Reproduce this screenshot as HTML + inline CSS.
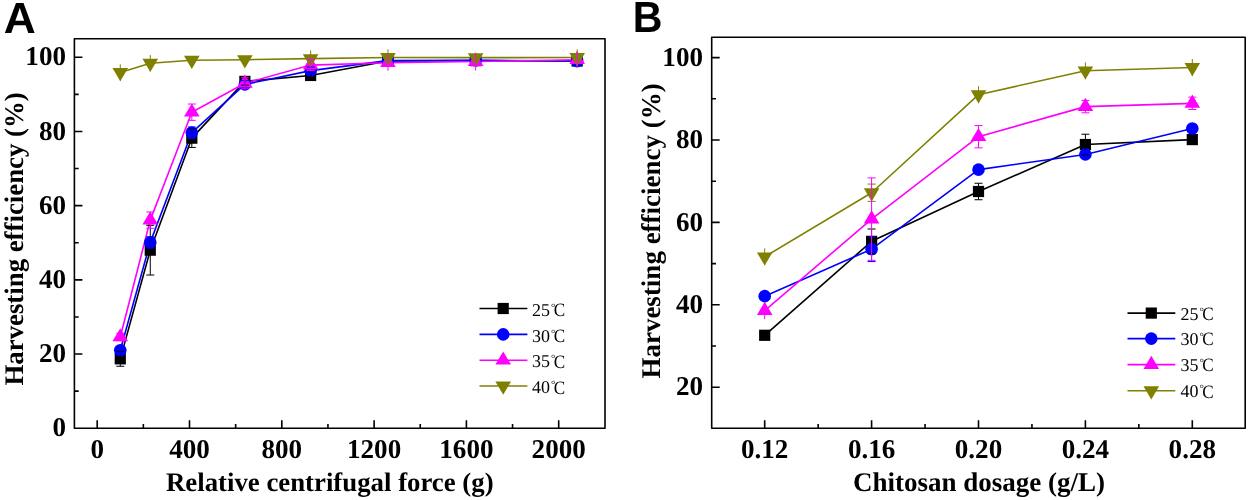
<!DOCTYPE html><html><head><meta charset="utf-8"><style>
html,body{margin:0;padding:0;background:#fff;width:1249px;height:500px;overflow:hidden}
svg{display:block;will-change:transform;text-rendering:geometricPrecision}
.tl{font-family:"Liberation Serif",serif;font-weight:bold;font-size:27.1px;fill:#000}
.ax{font-family:"Liberation Serif",serif;font-weight:bold;font-size:26.8px;fill:#000}
.lg{font-family:"Liberation Serif",serif;font-size:18px;fill:#000}
.deg{font-size:11px}
.pl{font-family:"Liberation Sans",sans-serif;font-weight:bold;font-size:43.5px;fill:#000}
</style></head><body>
<svg width="1249" height="500" viewBox="0 0 1249 500">
<polyline points="120.28,358.84 150.27,250.17 191.81,138.16 244.88,81.41 310.64,75.47 387.94,61.01 475.63,60.64 577.16,61.01" fill="none" stroke="#000000" stroke-width="1.6" stroke-linejoin="round"/>
<polyline points="120.28,350.31 150.27,242.38 191.81,132.59 244.88,84.38 310.64,70.65 387.94,60.64 475.63,60.27 577.16,61.01" fill="none" stroke="#0000FF" stroke-width="1.6" stroke-linejoin="round"/>
<polyline points="120.28,336.96 150.27,220.13 191.81,112.19 244.88,83.26 310.64,65.09 387.94,62.68 475.63,61.57 577.16,59.71" fill="none" stroke="#FF00FF" stroke-width="1.6" stroke-linejoin="round"/>
<polyline points="120.28,72.51 150.27,63.23 191.81,60.27 244.88,59.71 310.64,58.6 387.94,57.49 475.63,57.67 577.16,57.49" fill="none" stroke="#808000" stroke-width="1.6" stroke-linejoin="round"/>
<rect x="114.68" y="353.24" width="11.2" height="11.2" fill="#000000"/>
<rect x="144.67" y="244.57" width="11.2" height="11.2" fill="#000000"/>
<rect x="186.21" y="132.56" width="11.2" height="11.2" fill="#000000"/>
<rect x="239.28" y="75.81" width="11.2" height="11.2" fill="#000000"/>
<rect x="305.04" y="69.87" width="11.2" height="11.2" fill="#000000"/>
<rect x="382.34" y="55.41" width="11.2" height="11.2" fill="#000000"/>
<rect x="470.03" y="55.04" width="11.2" height="11.2" fill="#000000"/>
<rect x="571.56" y="55.41" width="11.2" height="11.2" fill="#000000"/>
<circle cx="120.28" cy="350.31" r="6.3" fill="#0000FF"/>
<circle cx="150.27" cy="242.38" r="6.3" fill="#0000FF"/>
<circle cx="191.81" cy="132.59" r="6.3" fill="#0000FF"/>
<circle cx="244.88" cy="84.38" r="6.3" fill="#0000FF"/>
<circle cx="310.64" cy="70.65" r="6.3" fill="#0000FF"/>
<circle cx="387.94" cy="60.64" r="6.3" fill="#0000FF"/>
<circle cx="475.63" cy="60.27" r="6.3" fill="#0000FF"/>
<circle cx="577.16" cy="61.01" r="6.3" fill="#0000FF"/>
<path d="M120.28 328.16L128.08 341.36L112.48 341.36Z" fill="#FF00FF"/>
<path d="M150.27 211.33L158.07 224.53L142.47 224.53Z" fill="#FF00FF"/>
<path d="M191.81 103.39L199.61 116.59L184.01 116.59Z" fill="#FF00FF"/>
<path d="M244.88 74.46L252.68 87.66L237.08 87.66Z" fill="#FF00FF"/>
<path d="M310.64 56.29L318.44 69.49L302.84 69.49Z" fill="#FF00FF"/>
<path d="M387.94 53.88L395.75 67.08L380.14 67.08Z" fill="#FF00FF"/>
<path d="M475.63 52.77L483.43 65.97L467.83 65.97Z" fill="#FF00FF"/>
<path d="M577.16 50.91L584.96 64.11L569.36 64.11Z" fill="#FF00FF"/>
<path d="M112.48 68.11L128.08 68.11L120.28 81.31Z" fill="#808000"/>
<path d="M142.47 58.83L158.07 58.83L150.27 72.03Z" fill="#808000"/>
<path d="M184.01 55.87L199.61 55.87L191.81 69.07Z" fill="#808000"/>
<path d="M237.08 55.31L252.68 55.31L244.88 68.51Z" fill="#808000"/>
<path d="M302.84 54.2L318.44 54.2L310.64 67.4Z" fill="#808000"/>
<path d="M380.14 53.09L395.75 53.09L387.94 66.29Z" fill="#808000"/>
<path d="M467.83 53.27L483.43 53.27L475.63 66.47Z" fill="#808000"/>
<path d="M569.36 53.09L584.96 53.09L577.16 66.29Z" fill="#808000"/>
<path d="M120.28 64.35V80.67" stroke="#808000" stroke-width="1" fill="none"/>
<path d="M150.27 55.07V71.39" stroke="#808000" stroke-width="1" fill="none"/>
<path d="M310.64 50.44V66.76" stroke="#808000" stroke-width="1" fill="none"/>
<path d="M387.94 49.33V65.65" stroke="#808000" stroke-width="1" fill="none"/>
<path d="M577.16 49.33V65.65" stroke="#808000" stroke-width="1" fill="none"/>
<path d="M120.28 351.42V366.26M116.28 351.42H124.28M116.28 366.26H124.28" stroke="#000000" stroke-width="1" fill="none"/>
<path d="M150.27 225.32V275.02M146.27 225.32H154.27M146.27 275.02H154.27" stroke="#000000" stroke-width="1" fill="none"/>
<path d="M191.81 128.88V147.43M187.81 128.88H195.81M187.81 147.43H195.81" stroke="#000000" stroke-width="1" fill="none"/>
<path d="M244.88 77.7V85.12M240.88 77.7H248.88M240.88 85.12H248.88" stroke="#000000" stroke-width="1" fill="none"/>
<path d="M310.64 71.77V79.18M306.64 71.77H314.64M306.64 79.18H314.64" stroke="#000000" stroke-width="1" fill="none"/>
<path d="M120.28 346.6V354.02M116.28 346.6H124.28M116.28 354.02H124.28" stroke="#0000FF" stroke-width="1" fill="none"/>
<path d="M150.27 236.82V247.94M146.27 236.82H154.27M146.27 247.94H154.27" stroke="#0000FF" stroke-width="1" fill="none"/>
<path d="M191.81 127.03V138.16M187.81 127.03H195.81M187.81 138.16H195.81" stroke="#0000FF" stroke-width="1" fill="none"/>
<path d="M244.88 80.67V88.08M240.88 80.67H248.88M240.88 88.08H248.88" stroke="#0000FF" stroke-width="1" fill="none"/>
<path d="M310.64 66.94V74.36M306.64 66.94H314.64M306.64 74.36H314.64" stroke="#0000FF" stroke-width="1" fill="none"/>
<path d="M120.28 333.25V340.67M116.28 333.25H124.28M116.28 340.67H124.28" stroke="#FF00FF" stroke-width="1" fill="none"/>
<path d="M150.27 211.97V228.28M146.27 211.97H154.27M146.27 228.28H154.27" stroke="#FF00FF" stroke-width="1" fill="none"/>
<path d="M191.81 104.03V120.35M187.81 104.03H195.81M187.81 120.35H195.81" stroke="#FF00FF" stroke-width="1" fill="none"/>
<path d="M244.88 77.7V88.83M240.88 77.7H248.88M240.88 88.83H248.88" stroke="#FF00FF" stroke-width="1" fill="none"/>
<path d="M310.64 59.53V70.65M306.64 59.53H314.64M306.64 70.65H314.64" stroke="#FF00FF" stroke-width="1" fill="none"/>
<path d="M387.94 54.52V70.84" stroke="#FF00FF" stroke-width="1" fill="none"/>
<path d="M475.63 52.66V70.47" stroke="#FF00FF" stroke-width="1" fill="none"/>
<path d="M577.16 51.55V67.87" stroke="#FF00FF" stroke-width="1" fill="none"/>
<rect x="74.4" y="38.8" width="530.6" height="389.4" fill="none" stroke="#000" stroke-width="1.6" stroke-linejoin="round"/>
<path d="M97.2 428.2V420.2M189.5 428.2V420.2M281.8 428.2V420.2M374.1 428.2V420.2M466.4 428.2V420.2M558.7 428.2V420.2M143.35 428.2V423.9M235.65 428.2V423.9M327.95 428.2V423.9M420.25 428.2V423.9M512.55 428.2V423.9M74.4 354.02H82.4M74.4 279.84H82.4M74.4 205.66H82.4M74.4 131.48H82.4M74.4 57.3H82.4M74.4 391.11H78.7M74.4 316.93H78.7M74.4 242.75H78.7M74.4 168.57H78.7M74.4 94.39H78.7" stroke="#000" stroke-width="1.6" fill="none"/>
<text x="97.2" y="458" text-anchor="middle" class="tl">0</text>
<text x="189.5" y="458" text-anchor="middle" class="tl">400</text>
<text x="281.8" y="458" text-anchor="middle" class="tl">800</text>
<text x="374.1" y="458" text-anchor="middle" class="tl">1200</text>
<text x="466.4" y="458" text-anchor="middle" class="tl">1600</text>
<text x="558.7" y="458" text-anchor="middle" class="tl">2000</text>
<text x="66" y="436.3" text-anchor="end" class="tl">0</text>
<text x="66" y="362.12" text-anchor="end" class="tl">20</text>
<text x="66" y="287.94" text-anchor="end" class="tl">40</text>
<text x="66" y="213.76" text-anchor="end" class="tl">60</text>
<text x="66" y="139.58" text-anchor="end" class="tl">80</text>
<text x="66" y="65.4" text-anchor="end" class="tl">100</text>
<path d="M479.5 308.5H527.4" stroke="#000000" stroke-width="1.6"/>
<rect x="497.6" y="302.9" width="11.2" height="11.2" fill="#000000"/>
<text x="531.9" y="315.7" class="lg">25</text>
<text x="551" y="310.6" class="lg deg">°</text>
<text transform="translate(553.8,316) scale(0.95,1.04)" class="lg">C</text>
<path d="M479.5 334.4H527.4" stroke="#0000FF" stroke-width="1.6"/>
<circle cx="503.2" cy="334.4" r="6.3" fill="#0000FF"/>
<text x="531.9" y="341.6" class="lg">30</text>
<text x="551" y="336.5" class="lg deg">°</text>
<text transform="translate(553.8,341.9) scale(0.95,1.04)" class="lg">C</text>
<path d="M479.5 360.2H527.4" stroke="#FF00FF" stroke-width="1.6"/>
<path d="M503.2 351.4L511 364.6L495.4 364.6Z" fill="#FF00FF"/>
<text x="531.9" y="367.4" class="lg">35</text>
<text x="551" y="362.3" class="lg deg">°</text>
<text transform="translate(553.8,367.7) scale(0.95,1.04)" class="lg">C</text>
<path d="M479.5 386H527.4" stroke="#808000" stroke-width="1.6"/>
<path d="M495.4 381.6L511 381.6L503.2 394.8Z" fill="#808000"/>
<text x="531.9" y="393.2" class="lg">40</text>
<text x="551" y="388.1" class="lg deg">°</text>
<text transform="translate(553.8,393.5) scale(0.95,1.04)" class="lg">C</text>
<text transform="translate(3.82,32.5) scale(1.02,1)" class="pl">A</text>
<text transform="translate(22.8,385.5) rotate(-90)" class="ax">Harvesting efficiency (%)</text>
<text x="329.8" y="491.2" text-anchor="middle" class="ax">Relative centrifugal force (g)</text>
<polyline points="764.7,335.29 871.6,241.35 978.5,191.5 1085.4,144.53 1192.3,139.59" fill="none" stroke="#000000" stroke-width="1.6" stroke-linejoin="round"/>
<polyline points="764.7,296.15 871.6,249.18 978.5,169.66 1085.4,154.42 1192.3,128.46" fill="none" stroke="#0000FF" stroke-width="1.6" stroke-linejoin="round"/>
<polyline points="764.7,310.57 871.6,219.1 978.5,136.7 1085.4,106.63 1192.3,103.33" fill="none" stroke="#FF00FF" stroke-width="1.6" stroke-linejoin="round"/>
<polyline points="764.7,256.8 871.6,192.74 978.5,94.68 1085.4,70.78 1192.3,67.49" fill="none" stroke="#808000" stroke-width="1.6" stroke-linejoin="round"/>
<rect x="759.1" y="329.69" width="11.2" height="11.2" fill="#000000"/>
<rect x="866" y="235.75" width="11.2" height="11.2" fill="#000000"/>
<rect x="972.9" y="185.9" width="11.2" height="11.2" fill="#000000"/>
<rect x="1079.8" y="138.93" width="11.2" height="11.2" fill="#000000"/>
<rect x="1186.7" y="133.99" width="11.2" height="11.2" fill="#000000"/>
<circle cx="764.7" cy="296.15" r="6.3" fill="#0000FF"/>
<circle cx="871.6" cy="249.18" r="6.3" fill="#0000FF"/>
<circle cx="978.5" cy="169.66" r="6.3" fill="#0000FF"/>
<circle cx="1085.4" cy="154.42" r="6.3" fill="#0000FF"/>
<circle cx="1192.3" cy="128.46" r="6.3" fill="#0000FF"/>
<path d="M764.7 301.77L772.5 314.97L756.9 314.97Z" fill="#FF00FF"/>
<path d="M871.6 210.3L879.4 223.5L863.8 223.5Z" fill="#FF00FF"/>
<path d="M978.5 127.9L986.3 141.1L970.7 141.1Z" fill="#FF00FF"/>
<path d="M1085.4 97.83L1093.2 111.03L1077.6 111.03Z" fill="#FF00FF"/>
<path d="M1192.3 94.53L1200.1 107.73L1184.5 107.73Z" fill="#FF00FF"/>
<path d="M756.9 252.4L772.5 252.4L764.7 265.6Z" fill="#808000"/>
<path d="M863.8 188.34L879.4 188.34L871.6 201.54Z" fill="#808000"/>
<path d="M970.7 90.28L986.3 90.28L978.5 103.48Z" fill="#808000"/>
<path d="M1077.6 66.38L1093.2 66.38L1085.4 79.58Z" fill="#808000"/>
<path d="M1184.5 63.09L1200.1 63.09L1192.3 76.29Z" fill="#808000"/>
<path d="M764.7 248.36V265.25" stroke="#808000" stroke-width="1" fill="none"/>
<path d="M871.6 184.08V201.39M867.6 184.08H875.6M867.6 201.39H875.6" stroke="#808000" stroke-width="1" fill="none"/>
<path d="M978.5 86.23V103.13" stroke="#808000" stroke-width="1" fill="none"/>
<path d="M1085.4 62.34V79.23" stroke="#808000" stroke-width="1" fill="none"/>
<path d="M1192.3 59.04V75.93" stroke="#808000" stroke-width="1" fill="none"/>
<path d="M764.7 331.99V338.58M760.7 331.99H768.7M760.7 338.58H768.7" stroke="#000000" stroke-width="1" fill="none"/>
<path d="M871.6 228.99V253.71M867.6 228.99H875.6M867.6 253.71H875.6" stroke="#000000" stroke-width="1" fill="none"/>
<path d="M978.5 183.26V199.74M974.5 183.26H982.5M974.5 199.74H982.5" stroke="#000000" stroke-width="1" fill="none"/>
<path d="M1085.4 134.23V154.83M1081.4 134.23H1089.4M1081.4 154.83H1089.4" stroke="#000000" stroke-width="1" fill="none"/>
<path d="M1192.3 135.47V143.71M1188.3 135.47H1196.3M1188.3 143.71H1196.3" stroke="#000000" stroke-width="1" fill="none"/>
<path d="M764.7 292.85V299.44M760.7 292.85H768.7M760.7 299.44H768.7" stroke="#0000FF" stroke-width="1" fill="none"/>
<path d="M871.6 236.82V261.54M867.6 236.82H875.6M867.6 261.54H875.6" stroke="#0000FF" stroke-width="1" fill="none"/>
<path d="M978.5 165.54V173.78M974.5 165.54H982.5M974.5 173.78H982.5" stroke="#0000FF" stroke-width="1" fill="none"/>
<path d="M1085.4 150.3V158.54M1081.4 150.3H1089.4M1081.4 158.54H1089.4" stroke="#0000FF" stroke-width="1" fill="none"/>
<path d="M1192.3 124.34V132.58M1188.3 124.34H1196.3M1188.3 132.58H1196.3" stroke="#0000FF" stroke-width="1" fill="none"/>
<path d="M764.7 301.92V319.22" stroke="#FF00FF" stroke-width="1" fill="none"/>
<path d="M871.6 177.9V260.3M867.6 177.9H875.6M867.6 260.3H875.6" stroke="#FF00FF" stroke-width="1" fill="none"/>
<path d="M978.5 125.58V147.83M974.5 125.58H982.5M974.5 147.83H982.5" stroke="#FF00FF" stroke-width="1" fill="none"/>
<path d="M1085.4 100.45V112.81M1081.4 100.45H1089.4M1081.4 112.81H1089.4" stroke="#FF00FF" stroke-width="1" fill="none"/>
<path d="M1192.3 97.15V109.51M1188.3 97.15H1196.3M1188.3 109.51H1196.3" stroke="#FF00FF" stroke-width="1" fill="none"/>
<rect x="711.7" y="37.2" width="533.5" height="391.1" fill="none" stroke="#000" stroke-width="1.6" stroke-linejoin="round"/>
<path d="M764.7 428.3V420.3M871.6 428.3V420.3M978.5 428.3V420.3M1085.4 428.3V420.3M1192.3 428.3V420.3M818.15 428.3V424.0M925.05 428.3V424.0M1031.95 428.3V424.0M1138.85 428.3V424.0M711.7 387.2H719.7M711.7 304.8H719.7M711.7 222.4H719.7M711.7 140H719.7M711.7 57.6H719.7M711.7 346H716.0M711.7 263.6H716.0M711.7 181.2H716.0M711.7 98.8H716.0" stroke="#000" stroke-width="1.6" fill="none"/>
<text x="764.7" y="458" text-anchor="middle" class="tl">0.12</text>
<text x="871.6" y="458" text-anchor="middle" class="tl">0.16</text>
<text x="978.5" y="458" text-anchor="middle" class="tl">0.20</text>
<text x="1085.4" y="458" text-anchor="middle" class="tl">0.24</text>
<text x="1192.3" y="458" text-anchor="middle" class="tl">0.28</text>
<text x="703" y="395.3" text-anchor="end" class="tl">20</text>
<text x="703" y="312.9" text-anchor="end" class="tl">40</text>
<text x="703" y="230.5" text-anchor="end" class="tl">60</text>
<text x="703" y="148.1" text-anchor="end" class="tl">80</text>
<text x="703" y="65.7" text-anchor="end" class="tl">100</text>
<path d="M1127.5 313.1H1175.3" stroke="#000000" stroke-width="1.6"/>
<rect x="1145.7" y="307.5" width="11.2" height="11.2" fill="#000000"/>
<text x="1180.4" y="319.6" class="lg">25</text>
<text x="1199.5" y="314.5" class="lg deg">°</text>
<text transform="translate(1202.3,319.9) scale(0.95,1.04)" class="lg">C</text>
<path d="M1127.5 338.6H1175.3" stroke="#0000FF" stroke-width="1.6"/>
<circle cx="1151.3" cy="338.6" r="6.3" fill="#0000FF"/>
<text x="1180.4" y="345.1" class="lg">30</text>
<text x="1199.5" y="340" class="lg deg">°</text>
<text transform="translate(1202.3,345.4) scale(0.95,1.04)" class="lg">C</text>
<path d="M1127.5 364.6H1175.3" stroke="#FF00FF" stroke-width="1.6"/>
<path d="M1151.3 355.8L1159.1 369L1143.5 369Z" fill="#FF00FF"/>
<text x="1180.4" y="371.1" class="lg">35</text>
<text x="1199.5" y="366" class="lg deg">°</text>
<text transform="translate(1202.3,371.4) scale(0.95,1.04)" class="lg">C</text>
<path d="M1127.5 390.7H1175.3" stroke="#808000" stroke-width="1.6"/>
<path d="M1143.5 386.3L1159.1 386.3L1151.3 399.5Z" fill="#808000"/>
<text x="1180.4" y="397.2" class="lg">40</text>
<text x="1199.5" y="392.1" class="lg deg">°</text>
<text transform="translate(1202.3,397.5) scale(0.95,1.04)" class="lg">C</text>
<text transform="translate(632.81,32.2) scale(0.944,1)" class="pl">B</text>
<text transform="translate(660.3,378.6) rotate(-90)" class="ax" style="font-size:27px">Harvesting efficiency (%)</text>
<text x="979" y="491.3" text-anchor="middle" class="ax" style="font-size:27px">Chitosan dosage (g/L)</text>
</svg></body></html>
